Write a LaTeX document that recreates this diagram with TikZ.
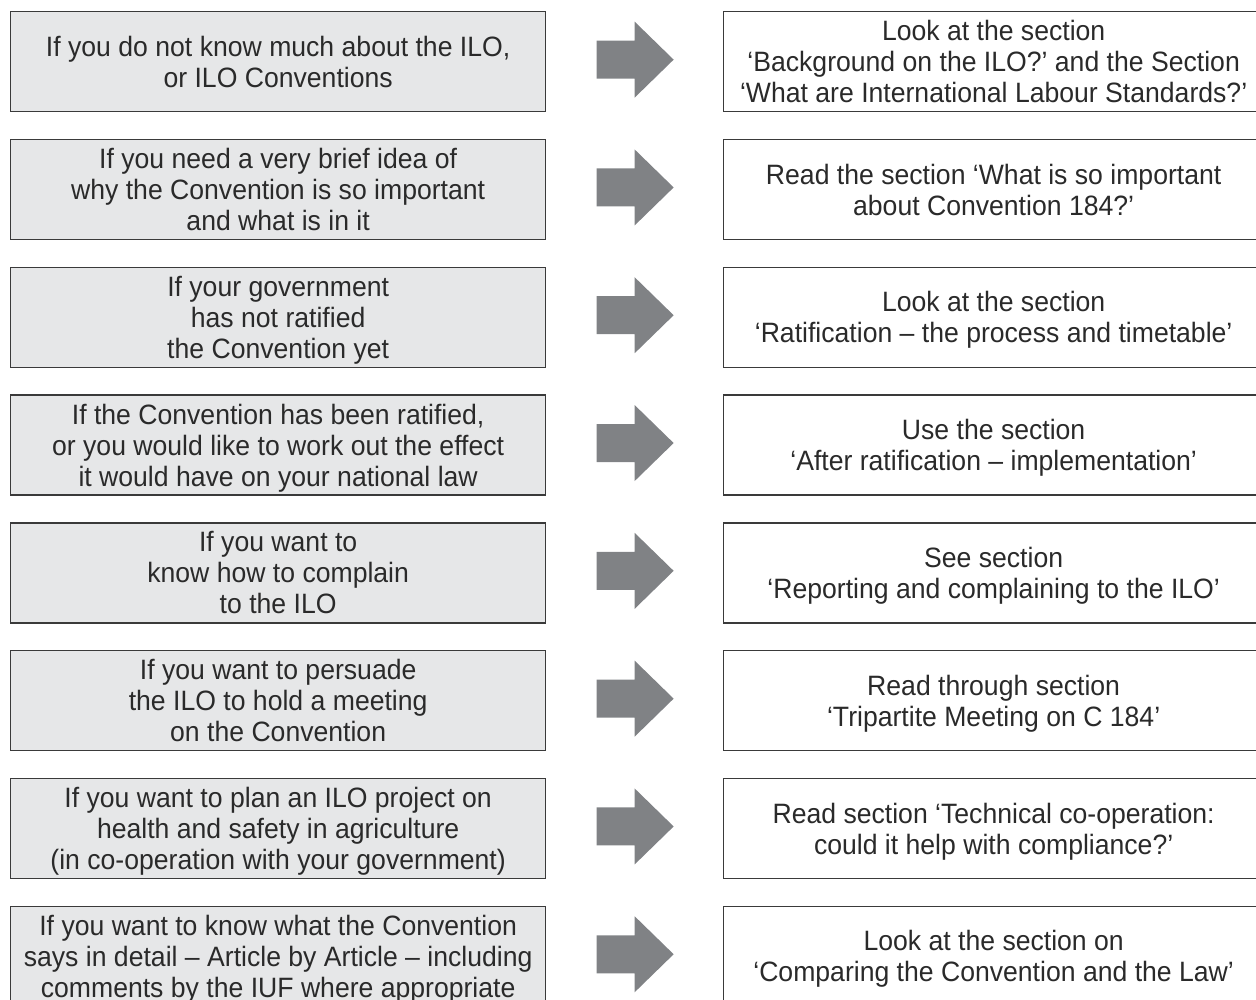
\documentclass[tikz,border=0pt]{standalone}
\usepackage{fontspec}
\setmainfont{Liberation Sans}[FakeStretch=0.95]
\usetikzlibrary{calc}
\definecolor{boxgray}{HTML}{E6E7E8}
\definecolor{linegray}{HTML}{3A3A3A}
\definecolor{arrowgray}{HTML}{808285}
\definecolor{txt}{HTML}{2A2A2A}
\begin{document}
\begin{tikzpicture}[x=1pt,y=-1pt,
  qbox/.style={draw=linegray, line width=1.3pt, fill=boxgray, minimum width=535pt,
    minimum height=100pt, align=center, text=txt, font=\fontsize{28}{31}\selectfont,
    inner sep=0pt, anchor=north west, text depth=0pt,
    execute at begin node={\rule{0pt}{29pt}}},
  abox/.style={qbox, fill=white, minimum width=540pt,
    execute at begin node={\rule{0pt}{26pt}}},
  bigarrow/.style={fill=arrowgray}]
\useasboundingbox (0,0) rectangle (1256,1000);
\clip (0,0) rectangle (1256,1000);

\node[qbox] (L1) at (10,11) {If you do not know much about the ILO,\\or ILO Conventions};
\node[abox] (R1) at (723,11) {Look at the section\\‘Background on the ILO?’ and the Section\\‘What are International Labour Standards?’};

\node[qbox] (L2) at (10,138.8) {If you need a very brief idea of\\why the Convention is so important\\and what is in it};
\node[abox] (R2) at (723,138.8) {Read the section ‘What is so important\\about Convention 184?’};

\node[qbox] (L3) at (10,266.6) {If your government\\has not ratified\\the Convention yet};
\node[abox] (R3) at (723,266.6) {Look at the section\\‘Ratification – the process and timetable’};

\node[qbox] (L4) at (10,394.4) {If the Convention has been ratified,\\or you would like to work out the effect\\it would have on your national law};
\node[abox] (R4) at (723,394.4) {Use the section\\‘After ratification – implementation’};

\node[qbox] (L5) at (10,522.2) {If you want to\\know how to complain\\to the ILO};
\node[abox] (R5) at (723,522.2) {See section\\‘Reporting and complaining to the ILO’};

\node[qbox] (L6) at (10,650) {If you want to persuade\\the ILO to hold a meeting\\on the Convention};
\node[abox] (R6) at (723,650) {Read through section\\‘Tripartite Meeting on C 184’};

\node[qbox] (L7) at (10,777.8) {If you want to plan an ILO project on\\health and safety in agriculture\\(in co-operation with your government)};
\node[abox] (R7) at (723,777.8) {Read section ‘Technical co-operation:\\could it help with compliance?’};

\node[qbox] (L8) at (10,905.6) {If you want to know what the Convention\\says in detail – Article by Article – including\\comments by the IUF where appropriate};
\node[abox] (R8) at (723,905.6) {Look at the section on\\‘Comparing the Convention and the Law’};

\foreach \i in {1,...,8}{
  \coordinate (c\i) at ($(L\i.east)!0.5!(R\i.west)+(0,-2)$);
  \fill[bigarrow] (c\i) ++(-38,-19) -- ++(38,0) -- ++(0,-19) -- ++(39,38)
    -- ++(-39,38) -- ++(0,-19) -- ++(-38,0) -- cycle;
}
\end{tikzpicture}
\end{document}
